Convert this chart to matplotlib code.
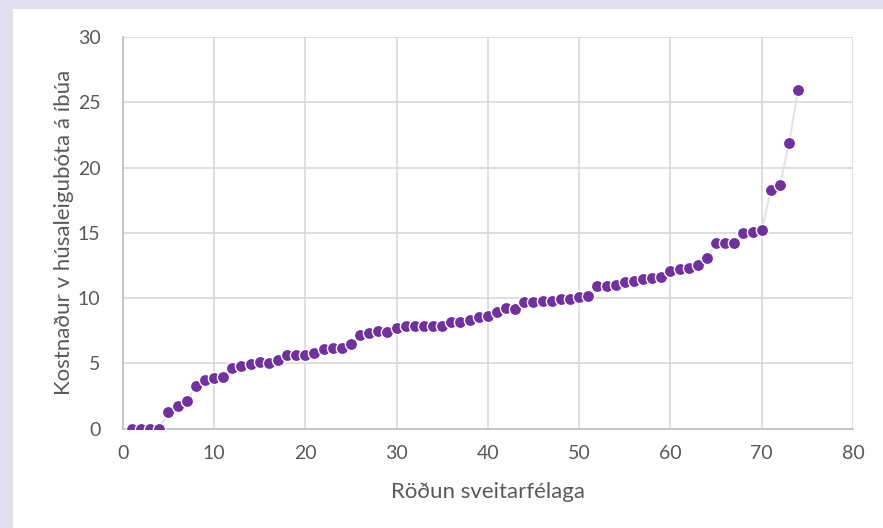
import matplotlib
matplotlib.use("Agg")
import matplotlib.pyplot as plt
from matplotlib.patches import Rectangle

# Kostnaður húsaleigubóta á íbúa, raðað eftir sveitarfélögum
rank = list(range(1, 75))
cost = [0.0, 0.0, 0.0, 0.0, 1.3, 1.75, 2.1, 3.3, 3.7, 3.85,
        3.97, 4.65, 4.8, 4.93, 5.08, 5.06, 5.24, 5.65, 5.65, 5.65,
        5.8, 6.08, 6.2, 6.2, 6.5, 7.17, 7.3, 7.45, 7.43, 7.73,
        7.86, 7.86, 7.86, 7.86, 7.83, 8.14, 8.14, 8.29, 8.54, 8.67,
        8.97, 9.24, 9.2, 9.67, 9.67, 9.8, 9.8, 9.92, 9.92, 10.05,
        10.2, 10.9, 10.9, 11.04, 11.2, 11.3, 11.47, 11.57, 11.62, 12.1,
        12.22, 12.33, 12.5, 13.1, 14.22, 14.22, 14.22, 14.98, 15.08, 15.2,
        18.26, 18.66, 21.9, 25.95]

xticks = [0, 10, 20, 30, 40, 50, 60, 70, 80]
yticks = [0, 5, 10, 15, 20, 25, 30]

plt.rcParams['font.family'] = ['Lato', 'DejaVu Sans']
txt = '#595959'

fig = plt.figure(figsize=(8.83, 5.28), dpi=100, facecolor='#e1dfed')
fig.add_artist(Rectangle((13 / 883, 0), 1, 1 - 9 / 528, transform=fig.transFigure,
                         facecolor='white', edgecolor='none', zorder=0))

ax = fig.add_axes([0.139, 0.188, 0.827, 0.742])
ax.set_facecolor('white')
ax.plot(rank, cost, color='#e4e4e4', lw=1.5, zorder=2)
ax.plot(rank, cost, ls='none', marker='o', ms=8.8, mfc='#7030a0',
        mec='white', mew=1.0, zorder=3)

ax.set_xlim(0, 80)
ax.set_ylim(0, 30)
ax.set_xticks(xticks)
ax.set_yticks(yticks)
ax.grid(True, color='#d9d9d9', lw=1.2, zorder=0)
ax.set_axisbelow(True)
for s in ['top', 'right']:
    ax.spines[s].set_visible(False)
for s in ['left', 'bottom']:
    ax.spines[s].set_color('#bfbfbf')
    ax.spines[s].set_linewidth(1.2)
ax.tick_params(length=0, labelsize=14, labelcolor=txt, pad=12)
ax.tick_params(axis='y', pad=16)

ax.set_xlabel('Röðun sveitarfélaga', fontsize=16, color=txt, labelpad=14)
ax.set_ylabel('Kostnaður v húsaleigubóta á íbúa', fontsize=16, color=txt, labelpad=3)

fig.savefig('out.png', dpi=100, facecolor=fig.get_facecolor())
